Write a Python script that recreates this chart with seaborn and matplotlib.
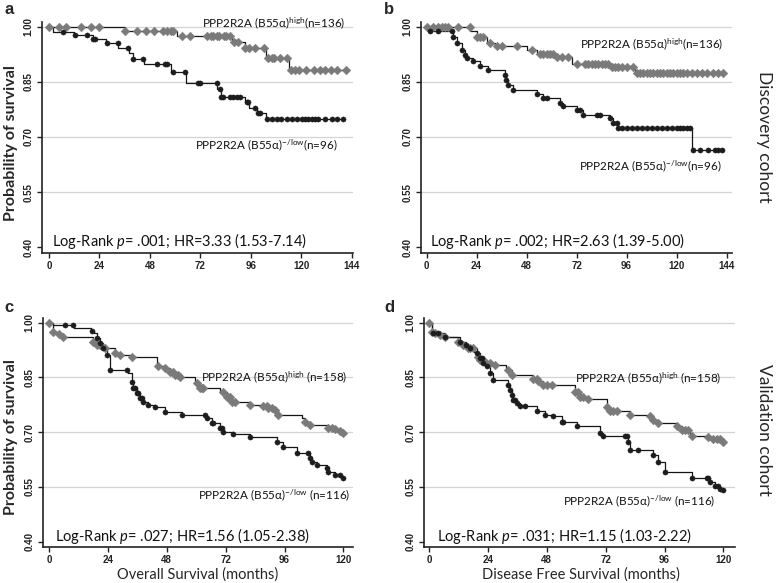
import numpy as np
import pandas as pd
import matplotlib
matplotlib.use("Agg")
import matplotlib.pyplot as plt
import seaborn as sns

# ---------------- data ----------------
# Panel a : discovery cohort, overall survival
a_hi_t = [36, 61, 87, 93, 103, 114]
a_hi_s = [0.990, 0.975, 0.960, 0.943, 0.915, 0.884]
a_hi_end = 141
a_hi_c = [0, 5, 8, 15, 20, 24, 36, 42, 46, 50, 54, 56, 58, 59, 63, 67, 75, 77, 78, 80, 81, 83, 84, 86,
          88, 90, 93, 95, 98, 102, 104, 106, 107, 110, 113, 115, 117, 119, 122, 126, 129, 131, 134, 137, 141]
a_lo_t = [2, 12, 21, 27, 33, 38, 40, 45, 58, 65, 80, 82, 93, 95, 99, 103]
a_lo_s = [0.987, 0.978, 0.967, 0.956, 0.943, 0.930, 0.912, 0.900, 0.878, 0.847, 0.830, 0.810, 0.796,
          0.780, 0.765, 0.750]
a_lo_end = 140
a_lo_c = [6.8, 12.4, 17.9, 21.1, 21.9, 27.4, 32.9, 37.7, 40.1, 44.8, 51.2, 55.1, 55.9, 59.1, 64.6, 71.0,
          71.8, 79.7, 81.3, 82.0, 82.8, 86.0, 87.6, 89.2, 90.8, 93.9, 94.7, 97.9, 99.5, 100.3, 103.4,
          105.8, 108.2, 110.5, 112.9, 115.3, 117.7, 120.1, 121.6, 123.2, 124.8, 126.4, 128.0, 131.2,
          134.3, 136.7, 139.9]

# Panel b : discovery cohort, disease free survival
b_hi_t = [21, 24, 29, 33, 48, 53, 61, 70, 88, 100]
b_hi_s = [0.990, 0.973, 0.957, 0.947, 0.936, 0.927, 0.918, 0.900, 0.890, 0.875]
b_hi_end = 142.4
b_hi_c = [0, 3.2, 5.6, 7.2, 8.8, 10.4, 15.2, 20.8, 24.0, 25.6, 27.2, 30.4, 33.6, 36.0, 43.2, 50.4, 54.4,
          56.0, 57.6, 59.2, 60.8, 62.4, 64.8, 68.0, 72.0, 76.0, 77.6, 79.2, 80.8, 82.4, 84.0, 85.6, 87.2,
          88.8, 90.4, 92.0, 93.6, 96.0, 99.2, 100.8, 102.4, 104.0, 105.6, 107.2, 108.8, 110.4, 112.0,
          113.6, 115.2, 116.8, 118.4, 120.0, 121.6, 123.2, 124.8, 127.2, 129.6, 132.0, 134.4, 137.6,
          140.0, 142.4]
b_lo_t = [0.9, 12.8, 14.4, 16.8, 18.4, 19.5, 22.4, 25.6, 29.6, 37.6, 38.1, 39.2, 41.6, 52.8, 56, 64,
          65.6, 72, 75.2, 88, 89.6, 92, 127.2]
b_lo_s = [0.988, 0.974, 0.956, 0.938, 0.924, 0.915, 0.906, 0.893, 0.884, 0.870, 0.856, 0.843, 0.829,
          0.817, 0.806, 0.793, 0.784, 0.775, 0.761, 0.752, 0.738, 0.725, 0.665]
b_lo_end = 141.6
b_lo_c = [1.6, 5.6, 12.0, 12.8, 14.4, 16.8, 18.4, 19.5, 22.4, 25.6, 29.6, 37.6, 38.1, 39.2, 41.6, 52.8,
          56.0, 57.6, 64.0, 65.6, 72.0, 73.6, 75.2, 81.6, 83.2, 88.0, 89.6, 91.2, 92.0, 93.6, 96.0, 98.4,
          100.8, 103.2, 105.6, 108.0, 110.4, 112.8, 115.2, 117.6, 120.0, 121.6, 123.2, 124.8, 126.4,
          128.0, 131.2, 135.2, 138.4, 140.0, 141.6]

# Panel c : validation cohort, overall survival
c_hi_t = [1.8, 4.2, 5.6, 18.1, 19.4, 22.8, 26.9, 28.9, 33.7, 43.9, 44.6, 47.3, 49.3, 51.4, 53.4, 59.5,
          61.5, 69.7, 72.4, 74.5, 81.9, 87.4, 89.4, 91.4, 93.5, 103, 104.4, 106.4, 113.9, 115.9, 118.6,
          119.5]
c_hi_s = [0.975, 0.968, 0.962, 0.948, 0.939, 0.930, 0.918, 0.912, 0.905, 0.889, 0.880, 0.875, 0.866,
          0.857, 0.850, 0.834, 0.820, 0.811, 0.797, 0.784, 0.775, 0.772, 0.766, 0.761, 0.747, 0.739,
          0.729, 0.720, 0.711, 0.708, 0.702, 0.699]
c_hi_end = 120
c_hi_c = [0, 1.8, 4.2, 5.6, 18.1, 19.4, 20.8, 22.8, 26.9, 28.9, 33.7, 44.6, 47.3, 49.3, 50.7, 51.4, 52.7,
          53.4, 60.2, 61.5, 62.2, 62.9, 71.1, 72.4, 73.1, 73.8, 74.5, 75.8, 81.9, 87.4, 88.7, 89.4, 90.8,
          92.1, 93.5, 104.4, 106.4, 113.9, 115.2, 116.6, 118.6, 120]
c_lo_t = [1.8, 10.3, 17.1, 18.2, 19.4, 20.8, 22.1, 23.5, 24.9, 32.3, 33.7, 34.4, 35.7, 37.1, 38.5, 40.5,
          43.2, 47.3, 54.1, 64.3, 66.3, 69.7, 71.1, 75.1, 81.9, 92.8, 95.5, 101, 106.4, 107.1, 109.1,
          113.2, 113.9, 116.6, 119.3]
c_lo_s = [0.994, 0.985, 0.978, 0.971, 0.957, 0.944, 0.930, 0.912, 0.870, 0.861, 0.838, 0.820, 0.807,
          0.793, 0.784, 0.775, 0.768, 0.756, 0.747, 0.738, 0.726, 0.711, 0.701, 0.695, 0.688, 0.674,
          0.660, 0.642, 0.628, 0.619, 0.610, 0.601, 0.592, 0.583, 0.574]
c_lo_end = 120
c_lo_c = [6.5, 9.9, 17.4, 19.4, 20.8, 22.1, 23.5, 24.9, 31.7, 33.7, 34.4, 35.1, 35.7, 36.4, 37.1, 37.8,
          38.5, 40.5, 43.2, 47.3, 54.1, 63.6, 64.3, 66.3, 67.0, 69.7, 70.4, 71.1, 75.1, 81.9, 92.8, 95.5,
          101, 105.7, 106.4, 107.1, 109.1, 113.2, 113.9, 116.6, 118.6, 120]

# Panel d : validation cohort, disease free survival
d_hi_t = [1.1, 2.4, 4.5, 6.5, 11.9, 14.0, 16.0, 18.2, 20.1, 20.8, 22.8, 24.9, 26.9, 31.6, 33.7, 42.5,
          44.6, 46.6, 59.5, 61.5, 64.9, 72.4, 73.8, 81.9, 88.7, 91.4, 93.5, 101, 103, 106.4, 113.9,
          115.9, 119.5]
d_hi_s = [0.975, 0.971, 0.966, 0.960, 0.948, 0.939, 0.930, 0.921, 0.907, 0.898, 0.893, 0.889, 0.884,
          0.870, 0.857, 0.845, 0.839, 0.830, 0.811, 0.797, 0.790, 0.770, 0.757, 0.747, 0.743, 0.734,
          0.725, 0.716, 0.707, 0.690, 0.688, 0.681, 0.672]
d_hi_end = 120
d_hi_c = [0, 1.1, 2.4, 4.5, 6.5, 11.9, 14.0, 16.0, 16.7, 18.1, 20.1, 20.8, 22.1, 22.8, 24.9, 26.9, 32.3,
          33.7, 42.5, 43.9, 44.6, 46.6, 48.0, 50.0, 59.5, 60.9, 61.5, 62.9, 64.9, 72.4, 73.8, 75.1, 76.5,
          81.9, 90.1, 91.4, 93.5, 101, 103, 104.4, 105.7, 107.1, 113.9, 115.9, 117.3, 118.6, 120]
d_lo_t = [1.1, 6.5, 12.6, 15.3, 16.7, 19.4, 20.8, 22.1, 23.5, 24.9, 26.2, 32.3, 33.0, 33.7, 34.4, 35.7,
          37.1, 43.9, 47.3, 50.7, 54.1, 60.2, 69.7, 71.1, 81.2, 81.9, 91.4, 93.5, 96.2, 107.1, 114.6,
          116.6, 118.6, 119.8]
d_lo_s = [0.971, 0.960, 0.948, 0.939, 0.930, 0.916, 0.902, 0.889, 0.880, 0.862, 0.844, 0.830, 0.816,
          0.802, 0.789, 0.780, 0.771, 0.757, 0.747, 0.743, 0.729, 0.716, 0.698, 0.690, 0.674, 0.651,
          0.638, 0.619, 0.592, 0.575, 0.564, 0.551, 0.545, 0.540]
d_lo_end = 120
d_lo_c = [1.8, 3.8, 6.5, 12.6, 15.3, 16.7, 19.4, 20.8, 21.5, 22.1, 23.5, 24.9, 26.2, 32.3, 33.0, 33.7,
          34.4, 35.1, 35.7, 37.1, 39.1, 43.9, 47.3, 50.7, 54.1, 54.8, 60.2, 69.7, 71.1, 79.9, 80.6, 81.3,
          81.9, 85.3, 91.4, 93.5, 96.2, 107.1, 113.2, 113.9, 114.6, 116.6, 117.9, 118.6, 120]

hi_labels = ["PPP2R2A (B55α)$^{\\mathrm{high}}$(n=136)", "PPP2R2A (B55α)$^{\\mathrm{high}}$(n=136)",
             "PPP2R2A (B55α)$^{\\mathrm{high}}$ (n=158)", "PPP2R2A (B55α)$^{\\mathrm{high}}$ (n=158)"]
lo_labels = ["PPP2R2A (B55α)$^{\\mathrm{-/low}}$(n=96)", "PPP2R2A (B55α)$^{\\mathrm{-/low}}$(n=96)",
             "PPP2R2A (B55α)$^{\\mathrm{-/low}}$ (n=116)", "PPP2R2A (B55α)$^{\\mathrm{-/low}}$ (n=116)"]
stat_labels = ["Log-Rank $p$= .001; HR=3.33 (1.53-7.14)", "Log-Rank $p$= .002; HR=2.63 (1.39-5.00)",
               "Log-Rank $p$= .027; HR=1.56 (1.05-2.38)", "Log-Rank $p$= .031; HR=1.15 (1.03-2.22)"]
panel_letters = ["a", "b", "c", "d"]
x_ticks_top = [0, 24, 48, 72, 96, 120, 144]
x_ticks_bottom = [0, 24, 48, 72, 96, 120]
y_ticks = [0.40, 0.55, 0.70, 0.85, 1.00]
y_tick_labels = ["0.40", "0.55", "0.70", "0.85", "1.00"]

# ---------------- style ----------------
sns.set_theme(style="ticks")
FONT = "Lato"
plt.rcParams["font.family"] = [FONT, "DejaVu Sans"]
plt.rcParams["mathtext.fontset"] = "custom"
plt.rcParams["mathtext.rm"] = FONT
plt.rcParams["mathtext.it"] = FONT + ":italic"
plt.rcParams["mathtext.bf"] = FONT + ":bold"

W, H = 778, 583
fig = plt.figure(figsize=(W / 100, H / 100), dpi=100)


def frac(l, t, r, b):
    return [l / W, 1 - b / H, (r - l) / W, (b - t) / H]


HI_COLOR = "#7a7a7a"
LO_COLOR = "#1c1c1c"


def draw_curve(ax, times, surv, end, cens, color, marker, s):
    x = [0.0] + list(times) + [end]
    y = [1.0] + list(surv) + [surv[-1]]
    df = pd.DataFrame({"t": x, "s": y})
    sns.lineplot(data=df, x="t", y="s", drawstyle="steps-post", color="#151515", lw=0.9,
                 ax=ax, estimator=None, sort=False, zorder=2)
    idx = np.searchsorted(np.asarray(times), np.asarray(cens), side="right")
    sv = np.concatenate([[1.0], surv])[idx]
    cdf = pd.DataFrame({"t": cens, "s": sv})
    sns.scatterplot(data=cdf, x="t", y="s", marker=marker, s=s, color=color, edgecolor=color,
                    linewidth=0.3, ax=ax, zorder=3)


panels = [
    dict(rect=frac(42, 22, 353, 253), xlim=(-3.3, 144.5), ylim=(0.384, 1.0136), xt=x_ticks_top,
         hi=(a_hi_t, a_hi_s, a_hi_end, a_hi_c), lo=(a_lo_t, a_lo_s, a_lo_end, a_lo_c),
         hi_pos=(141.0, 1.012), lo_pos=(137.4, 0.678), st_pos=(1.4, 0.417)),
    dict(rect=frac(421, 22, 732, 253), xlim=(-2.7, 146.6), ylim=(0.384, 1.0136), xt=x_ticks_top,
         hi=(b_hi_t, b_hi_s, b_hi_end, b_hi_c), lo=(b_lo_t, b_lo_s, b_lo_end, b_lo_c),
         hi_pos=(142.4, 0.954), lo_pos=(141.6, 0.620), st_pos=(1.6, 0.417)),
    dict(rect=frac(43, 318, 353, 547), xlim=(-2.4, 123.9), ylim=(0.385, 1.013), xt=x_ticks_bottom,
         hi=(c_hi_t, c_hi_s, c_hi_end, c_hi_c), lo=(c_lo_t, c_lo_s, c_lo_end, c_lo_c),
         hi_pos=(121.4, 0.850), lo_pos=(122.7, 0.528), st_pos=(2.4, 0.414)),
    dict(rect=frac(424, 318, 735, 547), xlim=(-2.0, 124.7), ylim=(0.385, 1.013), xt=x_ticks_bottom,
         hi=(d_hi_t, d_hi_s, d_hi_end, d_hi_c), lo=(d_lo_t, d_lo_s, d_lo_end, d_lo_c),
         hi_pos=(119.3, 0.848), lo_pos=(116.6, 0.510), st_pos=(3.1, 0.414)),
]

for i, p in enumerate(panels):
    ax = fig.add_axes(p["rect"])
    for gy in y_ticks[1:]:
        ax.axhline(gy, color="#d4d4d4", lw=0.9, zorder=0)
    draw_curve(ax, *p["hi"], HI_COLOR, "D", 20)
    draw_curve(ax, *p["lo"], LO_COLOR, "o", 14)
    ax.set_xlim(*p["xlim"])
    ax.set_ylim(*p["ylim"])
    ax.set_xticks(p["xt"])
    ax.set_xticklabels([str(v) for v in p["xt"]], fontfamily="Liberation Sans", fontweight="bold",
                       fontsize=7, color="#222222")
    ax.set_yticks(y_ticks)
    ax.set_yticklabels(y_tick_labels, rotation=90, va="center", fontfamily="Liberation Sans",
                       fontweight="bold", fontsize=7, color="#222222")
    ax.tick_params(axis="both", length=3.5, width=1.0, pad=2.5, color="#222222")
    ax.set_xlabel("")
    ax.set_ylabel("")
    sns.despine(ax=ax)
    for sp in ("left", "bottom"):
        ax.spines[sp].set_linewidth(1.2)
        ax.spines[sp].set_color("#222222")
    ax.text(*p["hi_pos"], hi_labels[i], ha="right", va="center", fontsize=8.4, color="#111111",
            clip_on=False)
    ax.text(*p["lo_pos"], lo_labels[i], ha="right", va="center", fontsize=8.4, color="#111111",
            clip_on=False)
    ax.text(*p["st_pos"], stat_labels[i], ha="left", va="center", fontsize=10.5, color="#111111")

# panel letters
for letter, (px, py) in zip(panel_letters, [(9, 10), (389, 10), (9, 307), (389, 307)]):
    fig.text(px / W, 1 - py / H, letter, ha="center", va="center", fontsize=12, fontweight="bold",
             fontfamily="Liberation Sans")

# axis titles
fig.text(11 / W, 1 - 143 / H, "Probability of survival", rotation=90, ha="center", va="center",
         fontsize=11.5, fontweight="bold")
fig.text(11 / W, 1 - 437 / H, "Probability of survival", rotation=90, ha="center", va="center",
         fontsize=11.5, fontweight="bold")
fig.text(198 / W, 1 - 575 / H, "Overall Survival (months)", ha="center", va="center", fontsize=10.5)
fig.text(581 / W, 1 - 575 / H, "Disease Free Survival (months)", ha="center", va="center", fontsize=10.5)
fig.text(764 / W, 1 - 137 / H, "Discovery cohort", rotation=270, ha="center", va="center", fontsize=12.5)
fig.text(764 / W, 1 - 430 / H, "Validation cohort", rotation=270, ha="center", va="center", fontsize=12.5)

fig.savefig("out.png", dpi=100, facecolor="white")
